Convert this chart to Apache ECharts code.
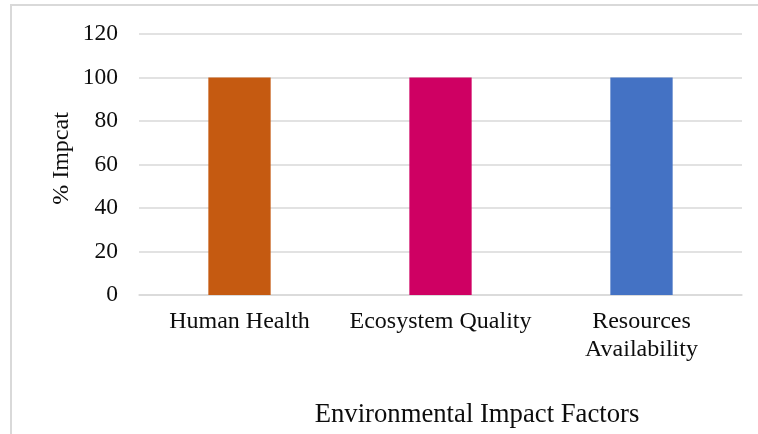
<!DOCTYPE html>
<html>
<head>
<meta charset="utf-8">
<script src="https://cdn.jsdelivr.net/npm/echarts@6/dist/echarts.min.js"></script>
<style>
  html, body { margin: 0; padding: 0; background: #fff; }
  #chart { width: 758px; height: 434px; }
</style>
</head>
<body>
<div id="chart"></div>
<script>
// Impact categories and their percentage share
const categories = ['Human Health', 'Ecosystem Quality', 'Resources\nAvailability'];
const impactValues = [100, 100, 100];
const barColors = ['#C55A11', '#CF0063', '#4472C4'];
const yTicks = { min: 0, max: 120, interval: 20 };

const serif = '"Liberation Serif", "Times New Roman", serif';

const chart = echarts.init(document.getElementById('chart'));
chart.setOption({
  backgroundColor: '#ffffff',
  animation: false,
  grid: { left: 139, right: 16, top: 34, bottom: 139 },
  xAxis: {
    type: 'category',
    data: categories,
    axisLine: { show: true, lineStyle: { color: '#d9d9d9', width: 1.5 } },
    axisTick: { show: false },
    axisLabel: {
      color: '#0d0d0d',
      fontFamily: serif,
      fontSize: 24,
      lineHeight: 28,
      margin: 13,
      interval: 0
    }
  },
  yAxis: {
    type: 'value',
    min: yTicks.min,
    max: yTicks.max,
    interval: yTicks.interval,
    axisLine: { show: false },
    axisTick: { show: false },
    splitLine: { lineStyle: { color: '#d9d9d9', width: 1.5 } },
    axisLabel: {
      color: '#0d0d0d',
      fontFamily: serif,
      fontSize: 23.5,
      margin: 21
    }
  },
  series: [{
    type: 'bar',
    barWidth: '31%',
    data: impactValues.map((v, i) => ({ value: v, itemStyle: { color: barColors[i] } }))
  }],
  graphic: [
    {
      type: 'rect',
      shape: { x: 11, y: 5, width: 900, height: 600 },
      style: { fill: 'none', stroke: '#d9d9d9', lineWidth: 2 },
      z: -1
    },
    {
      type: 'text',
      x: 62, y: 158.5,
      rotation: Math.PI / 2,
      style: {
        text: '% Impcat',
        font: '24px ' + serif,
        fill: '#0d0d0d',
        textAlign: 'center',
        textVerticalAlign: 'middle'
      }
    },
    {
      type: 'text',
      x: 477, y: 415,
      style: {
        text: 'Environmental Impact Factors',
        font: '26.7px ' + serif,
        fill: '#0d0d0d',
        textAlign: 'center',
        textVerticalAlign: 'middle'
      }
    }
  ]
});
</script>
</body>
</html>
